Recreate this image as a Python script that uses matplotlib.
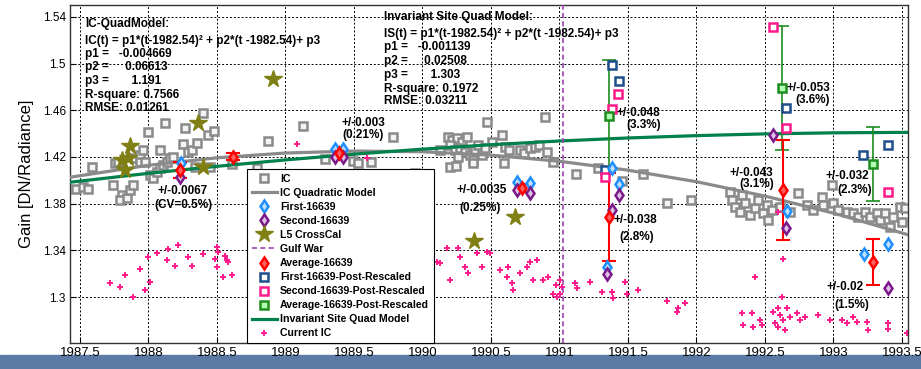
import matplotlib
matplotlib.use("Agg")
import matplotlib.pyplot as plt
from matplotlib.patches import Rectangle

plt.rcParams['font.family'] = ['Liberation Sans', 'DejaVu Sans']

# IC gray squares
ic_t = [1987.471, 1987.522, 1987.558, 1987.588, 1987.741, 1987.807, 1987.792, 1987.843, 1987.865,
        1987.887, 1987.755, 1987.777, 1987.901, 1987.938, 1987.960, 1987.938, 1987.974, 1987.996,
        1988.084, 1988.120, 1988.011, 1988.033, 1988.062, 1988.084, 1988.106, 1988.135, 1988.157,
        1988.179, 1988.252, 1988.266, 1988.288, 1988.318, 1988.354, 1988.398, 1988.434, 1988.478,
        1988.339, 1988.449, 1988.609, 1988.792, 1988.872,
        1989.128, 1989.288, 1989.493, 1989.529, 1989.624, 1989.785, 1989.945, 1990.186, 1990.215,
        1990.252, 1990.288, 1990.325, 1990.201, 1990.237, 1990.274, 1990.310, 1990.347, 1990.383,
        1990.405, 1990.434, 1990.369, 1990.259, 1990.201, 1990.245, 1990.369, 1990.471, 1990.507,
        1990.580, 1990.602, 1990.631, 1990.595, 1990.712, 1990.741, 1990.785, 1990.821, 1990.850,
        1990.909, 1990.953, 1990.894, 1990.456, 1990.128,
        1991.120, 1991.281, 1991.456, 1991.609, 1991.785, 1991.960, 1992.245, 1992.332, 1992.259,
        1992.281, 1992.318, 1992.354, 1992.391, 1992.427, 1992.449, 1992.485, 1992.515, 1992.522,
        1992.551, 1992.609, 1992.682, 1992.741, 1992.807, 1992.850, 1992.916, 1992.923, 1992.989,
        1992.996, 1993.033, 1993.099, 1993.142, 1993.179, 1993.230, 1993.266, 1993.318, 1993.339,
        1993.376, 1993.412, 1993.434, 1993.485, 1993.500, 1993.522]
ic_g = [1.3925, 1.3943, 1.3925, 1.4114, 1.3960, 1.3874, 1.3831, 1.3848, 1.3917,
        1.3960, 1.4148, 1.4157, 1.4191, 1.4217, 1.4260, 1.4157, 1.4157, 1.4414,
        1.4260, 1.4491, 1.4045, 1.4020, 1.4071, 1.4105, 1.4131, 1.4157, 1.4191,
        1.4200, 1.4311, 1.4448, 1.4243, 1.4260, 1.4320, 1.4577, 1.4388, 1.4422,
        1.4114, 1.4114, 1.4140, 1.4105, 1.4337,
        1.4465, 1.4183, 1.4165, 1.4148, 1.4157, 1.4371, 1.4063, 1.4371, 1.4345,
        1.4362, 1.4328, 1.4371, 1.4302, 1.4260, 1.4277, 1.4243, 1.4217, 1.4260,
        1.4302, 1.4217, 1.4174, 1.4200, 1.4114, 1.4123, 1.4148, 1.4500, 1.4328,
        1.4388, 1.4285, 1.4260, 1.4148, 1.4260, 1.4234, 1.4277, 1.4285, 1.4302,
        1.4243, 1.4157, 1.4542, 1.4277, 1.4260,
        1.4054, 1.4105, 1.3994, 1.4054, 1.3805, 1.3831, 1.3900, 1.3874, 1.3831,
        1.3771, 1.3728, 1.3805, 1.3703, 1.3763, 1.3831, 1.3720, 1.3788, 1.3660,
        1.3746, 1.3771, 1.3728, 1.3891, 1.3788, 1.3746, 1.3857, 1.3788, 1.3960,
        1.3805, 1.3746, 1.3728, 1.3720, 1.3686, 1.3728, 1.3686, 1.3720, 1.3660,
        1.3720, 1.3600, 1.3686, 1.3771, 1.3643, 1.3763]

# model curves read at half-year steps
model_t = [1987.43, 1988.0, 1988.5, 1989.0, 1989.5, 1990.0, 1990.5, 1991.0, 1991.5,
           1992.0, 1992.5, 1993.0, 1993.5, 1993.55]
ic_model = [1.4027, 1.4129, 1.4193, 1.4234, 1.4251, 1.4245, 1.4216, 1.4163, 1.4087,
            1.3988, 1.3865, 1.3719, 1.3549, 1.3531]
is_model = [1.3984, 1.4060, 1.4120, 1.4175, 1.4224, 1.4267, 1.4305, 1.4337, 1.4363,
            1.4383, 1.4398, 1.4407, 1.4411, 1.4411]

# current IC (pink pluses)
cur_t = [1987.887, 1987.938, 1987.996, 1988.062, 1988.142, 1988.215, 1988.135, 1988.193, 1988.288,
         1988.318, 1988.398, 1988.500, 1988.507, 1988.485, 1988.558, 1988.580, 1988.500, 1988.573,
         1988.609, 1988.544, 1988.011, 1987.792, 1987.719, 1987.828, 1987.974,
         1990.106, 1990.128, 1990.179, 1990.259, 1990.274, 1990.310, 1990.201, 1990.332, 1990.398,
         1990.434, 1990.471, 1990.493, 1990.566, 1990.617, 1990.624, 1990.653, 1990.661, 1990.712,
         1990.763, 1990.785, 1990.836, 1990.807, 1990.880, 1990.916, 1990.953, 1990.982, 1991.004,
         1991.018, 1990.974, 1991.004,
         1991.113, 1991.128, 1991.223, 1991.310, 1991.383, 1991.391, 1991.478, 1991.493, 1991.573,
         1991.785, 1991.865, 1991.916, 1991.858,
         1992.332, 1992.405, 1992.464, 1992.558, 1992.595, 1992.609, 1992.631, 1992.661, 1992.682,
         1992.734, 1992.755, 1992.792, 1992.887, 1992.974, 1993.062, 1993.099, 1993.142, 1993.172,
         1993.245, 1993.398, 1992.339, 1992.412, 1992.478, 1992.573, 1992.595, 1992.624, 1993.252,
         1993.398, 1993.536, 1992.646,
         1989.084, 1989.595, 1992.595, 1992.631, 1992.427]
cur_g = [1.300, 1.324, 1.334, 1.338, 1.341, 1.345, 1.332, 1.327, 1.334,
         1.327, 1.337, 1.343, 1.339, 1.333, 1.335, 1.330, 1.326, 1.332,
         1.319, 1.317, 1.313, 1.309, 1.312, 1.319, 1.306,
         1.330, 1.329, 1.342, 1.342, 1.334, 1.326, 1.315, 1.321, 1.338,
         1.326, 1.339, 1.338, 1.323, 1.317, 1.326, 1.312, 1.306, 1.321,
         1.326, 1.330, 1.332, 1.315, 1.315, 1.317, 1.303, 1.300, 1.315,
         1.309, 1.310, 1.303,
         1.312, 1.308, 1.313, 1.304, 1.304, 1.299, 1.313, 1.303, 1.306,
         1.297, 1.291, 1.295, 1.287,
         1.286, 1.286, 1.280, 1.287, 1.291, 1.285, 1.280, 1.291, 1.283,
         1.286, 1.280, 1.283, 1.285, 1.280, 1.280, 1.278, 1.283, 1.279,
         1.279, 1.278, 1.276, 1.274, 1.276, 1.278, 1.274, 1.300, 1.272,
         1.273, 1.269, 1.272,
         1.431, 1.419, 1.373, 1.333, 1.317]

# L5 cross-calibration
l5_t = [1987.807, 1987.828, 1987.850, 1987.865, 1988.361, 1988.398, 1988.909, 1990.376, 1990.675]
l5_g = [1.417, 1.409, 1.419, 1.429, 1.449, 1.411, 1.487, 1.348, 1.369]

# 16639 lamp measurements
first_t = [1988.24, 1989.361, 1989.420, 1990.690, 1990.785, 1991.347, 1991.434, 1991.383, 1992.661, 1993.223, 1993.398]
first_g = [1.415, 1.4268, 1.4268, 1.3985, 1.3976, 1.3257, 1.3968, 1.4105, 1.3737, 1.3368, 1.3454]
second_t = [1988.230, 1989.361, 1989.420, 1990.690, 1990.785, 1991.347, 1991.434, 1991.383, 1992.653, 1992.558, 1993.398]
second_g = [1.403, 1.420, 1.420, 1.3917, 1.3891, 1.320, 1.3874, 1.3746, 1.3591, 1.4388, 1.3077]
avg_t = [1988.23, 1988.617, 1989.39, 1990.73, 1991.361, 1992.631, 1993.288]
avg_g = [1.4088, 1.420, 1.4234, 1.3934, 1.3685, 1.3917, 1.330]
avg_err = [0.0067, 0.003, 0.003, 0.0035, 0.038, 0.043, 0.02]

first_post_t = [1991.383, 1991.434, 1991.332, 1992.653, 1993.215, 1993.398]
first_post_g = [1.4988, 1.4851, 1.4088, 1.462, 1.4217, 1.430]
second_post_t = [1991.427, 1991.383, 1991.332, 1992.558, 1992.653, 1993.398]
second_post_g = [1.474, 1.461, 1.4028, 1.5314, 1.4448, 1.390]
avg_post_t = [1991.361, 1992.624, 1993.288]
avg_post_g = [1.4551, 1.479, 1.414]
avg_post_err = [0.048, 0.053, 0.032]

gulf_war = 1991.026

ic_text = ["IC-QuadModel:",
           "IC(t) = p1*(t-1982.54)² + p2*(t -1982.54)+ p3",
           "p1 =   -0.004669",
           "p2 =     0.06613",
           "p3 =       1.191",
           "R-square: 0.7566",
           "RMSE: 0.01261"]
is_text = ["Invariant Site Quad Model:",
           "IS(t) = p1*(t-1982.54)² + p2*(t -1982.54)+ p3",
           "p1 =   -0.001139",
           "p2 =     0.02508",
           "p3 =       1.303",
           "R-square: 0.1972",
           "RMSE: 0.03211"]

fig = plt.figure(figsize=(9.21, 3.69), dpi=100)
fig.add_artist(Rectangle((0, 0), 1, 14 / 369, transform=fig.transFigure,
                         color='#5b7ba6', zorder=0))
ax = fig.add_axes([70 / 921, 26 / 369, 838 / 921, 338.3 / 369])

gray = '#8a8a8a'
blue = '#1e8fff'
purple = '#7a1a88'
red = '#ff0000'
navy = '#1f4e8c'
pink = '#ff1a8c'
green = '#1e8c1e'
olive = '#7f7f14'
dkgreen = '#00804a'

h_ic, = ax.plot(ic_t, ic_g, 's', ms=5.2, mfc='#f4f4f4', mec=gray, mew=1.8, ls='none', zorder=2, label='IC')
h_icm, = ax.plot(model_t, ic_model, '-', color=gray, lw=2.3, zorder=3, label='IC Quadratic Model')
h_ism, = ax.plot(model_t, is_model, '-', color=dkgreen, lw=2.3, zorder=3, label='Invariant Site Quad Model')
h_cur, = ax.plot(cur_t, cur_g, '+', color=pink, ms=5, mew=1.4, ls='none', zorder=2, label='Current IC')
h_l5, = ax.plot(l5_t, l5_g, '*', color=olive, ms=13, ls='none', zorder=4, label='L5 CrossCal')
h_gw = ax.axvline(gulf_war, color='#a040b0', ls=(0, (3, 2)), lw=1.2, zorder=3, label='Gulf War')

ax.errorbar(avg_post_t, avg_post_g, yerr=avg_post_err, fmt='none', ecolor=green, elinewidth=1.2,
            capsize=5, capthick=1.2, zorder=5)
ax.errorbar(avg_t, avg_g, yerr=avg_err, fmt='none', ecolor=red, elinewidth=1.5,
            capsize=5, capthick=1.5, zorder=6)

h_fp, = ax.plot(first_post_t, first_post_g, 's', ms=5.5, mfc='white', mec=navy, mew=1.8, ls='none', zorder=6,
                label='First-16639-Post-Rescaled')
h_sp, = ax.plot(second_post_t, second_post_g, 's', ms=5.5, mfc='white', mec=pink, mew=1.8, ls='none', zorder=6,
                label='Second-16639-Post-Rescaled')
h_ap, = ax.plot(avg_post_t, avg_post_g, 's', ms=5.5, mfc='#b0ffb0', mec=green, mew=1.8, ls='none', zorder=7,
                label='Average-16639-Post-Rescaled')
h_f, = ax.plot(first_t, first_g, 'd', ms=6, mfc='#bfe0ff', mec=blue, mew=1.8, ls='none', zorder=7,
               label='First-16639')
h_s, = ax.plot(second_t, second_g, 'd', ms=6, mfc='#e0c0e8', mec=purple, mew=1.8, ls='none', zorder=7,
               label='Second-16639')
h_a, = ax.plot(avg_t, avg_g, 'd', ms=6, mfc='#ff6060', mec=red, mew=1.8, ls='none', zorder=8,
               label='Average-16639')

# annotations
notes = [("+/-0.0067", 1988.252, 1.3905), ("(CV=0.5%)", 1988.252, 1.3785),
         ("+/-0.003", 1989.566, 1.4490), ("(0.21%)", 1989.566, 1.4385),
         ("+/-0.0035", 1990.434, 1.3917), ("(0.25%)", 1990.420, 1.3763),
         ("+/-0.048", 1991.573, 1.4577), ("(3.3%)", 1991.617, 1.4474),
         ("+/-0.038", 1991.551, 1.3660), ("(2.8%)", 1991.566, 1.3514),
         ("+/-0.053", 1992.814, 1.4790), ("(3.6%)", 1992.850, 1.4688),
         ("+/-0.043", 1992.398, 1.4063), ("(3.1%)", 1992.442, 1.3968),
         ("+/-0.032", 1993.099, 1.4037), ("(2.3%)", 1993.157, 1.3917),
         ("+/-0.02", 1993.084, 1.3086), ("(1.5%)", 1993.135, 1.2931)]
for s, x, y in notes:
    ax.text(x, y, s, ha='center', va='center', fontsize=8.5, fontweight='bold', zorder=9)

ic_y = [1.5339, 1.5194, 1.5082, 1.4971, 1.4851, 1.4731, 1.4620]
for s, y in zip(ic_text, ic_y):
    ax.text(1987.536, y, s, ha='left', va='center', fontsize=8.5, fontweight='bold', zorder=9)
is_y = [1.5399, 1.5254, 1.5142, 1.5022, 1.4902, 1.4782, 1.4680]
for s, y in zip(is_text, is_y):
    ax.text(1989.719, y, s, ha='left', va='center', fontsize=8.5, fontweight='bold', zorder=9)

ax.set_xlim(1987.427, 1993.544)
ax.set_ylim(1.2606, 1.5505)
ax.set_xticks([1987.5 + 0.5 * i for i in range(13)])
ax.set_xticklabels(['1987.5', '1988', '1988.5', '1989', '1989.5', '1990', '1990.5', '1991',
                    '1991.5', '1992', '1992.5', '1993', '1993.5'])
ax.set_yticks([1.3, 1.34, 1.38, 1.42, 1.46, 1.5, 1.54])
ax.set_yticklabels(['1.3', '1.34', '1.38', '1.42', '1.46', '1.5', '1.54'])
ax.tick_params(axis='x', labelsize=9.5, direction='in', length=4, pad=3)
ax.tick_params(axis='y', labelsize=8.5, direction='in', length=4, pad=3)
ax.grid(True, color='black', ls=(0, (2, 2)), lw=0.7)
for sp in ax.spines.values():
    sp.set_color('#333333')
    sp.set_linewidth(1)
ax.set_ylabel('Gain [DN/Radiance]', fontsize=12, labelpad=6)

handles = [h_ic, h_icm, h_f, h_s, h_l5, h_gw, h_a, h_fp, h_sp, h_ap, h_ism, h_cur]
leg = ax.legend(handles=handles, loc='lower left', bbox_to_anchor=(0.211, 0.0), borderaxespad=0,
                prop={'size': 7.6, 'weight': 'bold'}, fancybox=False, framealpha=1, edgecolor='black',
                labelspacing=0.38, handlelength=2.4, handletextpad=0.3, borderpad=0.45)
leg.set_zorder(20)
leg.get_frame().set_linewidth(0.8)

fig.savefig('out.png', dpi=100)
